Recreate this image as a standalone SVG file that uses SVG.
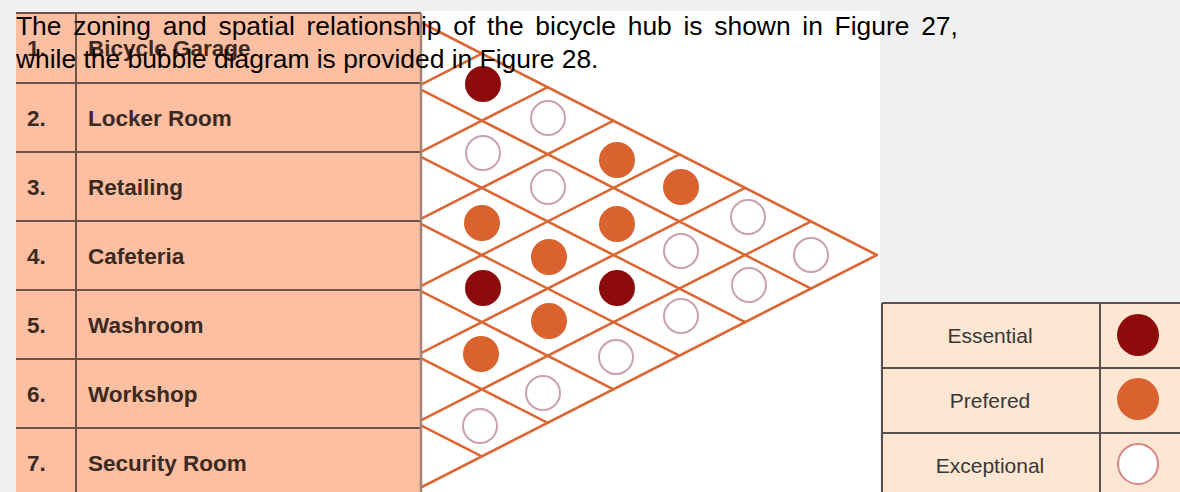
<svg xmlns="http://www.w3.org/2000/svg" width="1180" height="492" viewBox="0 0 1180 492">
<style>
.grid line{stroke:#DB6734;stroke-width:2.6;stroke-linecap:round}
.E{fill:#8E0B0B}
.P{fill:#D9622F}
.X{fill:#fff;stroke:#C9A2AC;stroke-width:2}
.row{fill:#FDBFA2}
.rl{stroke:#6E5246;stroke-width:2}
.num,.name{font-family:"Liberation Sans",Arial,sans-serif;font-weight:bold;font-size:22.5px;fill:#3A2A22}
.lg{fill:#FDE6D2}
.ll{stroke:#5A5050;stroke-width:2}
.lt{font-family:"Liberation Sans",Arial,sans-serif;font-size:21px;fill:#383838;text-anchor:middle}
.ov{font-family:"Liberation Sans",Arial,sans-serif;font-size:26.4px;fill:#000}
</style>
<rect x="0" y="0" width="1180" height="492" fill="#F0F0F0"/>
<rect x="421" y="11" width="459" height="481" fill="#FFFFFF"/>

<g id="connectors" class="grid">
<line x1="416" y1="20" x2="876.8" y2="255"/>
<line x1="416" y1="87.14" x2="811" y2="288.6"/>
<line x1="416" y1="154.29" x2="745.1" y2="322.1"/>
<line x1="416" y1="221.43" x2="679.3" y2="355.7"/>
<line x1="416" y1="288.57" x2="613.5" y2="389.3"/>
<line x1="416" y1="355.71" x2="547.7" y2="422.9"/>
<line x1="416" y1="422.86" x2="481.8" y2="456.4"/>
<line x1="416" y1="87.14" x2="481.8" y2="53.6"/>
<line x1="416" y1="154.29" x2="547.7" y2="87.1"/>
<line x1="416" y1="221.43" x2="613.5" y2="120.7"/>
<line x1="416" y1="288.57" x2="679.3" y2="154.3"/>
<line x1="416" y1="355.71" x2="745.1" y2="187.9"/>
<line x1="416" y1="422.86" x2="811" y2="221.4"/>
<line x1="416" y1="490" x2="876.8" y2="255"/>
</g>

<g id="matrix">
<circle class="E" cx="483" cy="84" r="18"/>
<circle class="X" cx="548" cy="118" r="17"/>
<circle class="X" cx="483" cy="153" r="17"/>
<circle class="P" cx="617" cy="160" r="18"/>
<circle class="P" cx="681" cy="187" r="18"/>
<circle class="X" cx="548" cy="187" r="17"/>
<circle class="P" cx="482" cy="223" r="18"/>
<circle class="P" cx="617" cy="224" r="18"/>
<circle class="X" cx="748" cy="217" r="17"/>
<circle class="X" cx="811" cy="255" r="17"/>
<circle class="P" cx="549" cy="257" r="18"/>
<circle class="X" cx="681" cy="251" r="17"/>
<circle class="E" cx="483" cy="288" r="18"/>
<circle class="E" cx="617" cy="288" r="18"/>
<circle class="X" cx="749" cy="285" r="17"/>
<circle class="P" cx="549" cy="321" r="18"/>
<circle class="X" cx="681" cy="316" r="17"/>
<circle class="P" cx="481" cy="354" r="18"/>
<circle class="X" cx="616" cy="357" r="17"/>
<circle class="X" cx="543" cy="393" r="17"/>
<circle class="X" cx="480" cy="426" r="17"/>
</g>

<g id="table">
<rect class="row" x="16" y="13" width="405" height="479"/>
<line class="rl" x1="16" y1="13" x2="421" y2="13" stroke-width="1.5"/>
<line class="rl" x1="16" y1="83" x2="421" y2="83"/>
<line class="rl" x1="16" y1="152" x2="421" y2="152"/>
<line class="rl" x1="16" y1="221" x2="421" y2="221"/>
<line class="rl" x1="16" y1="290" x2="421" y2="290"/>
<line class="rl" x1="16" y1="359" x2="421" y2="359"/>
<line class="rl" x1="16" y1="428" x2="421" y2="428"/>
<line class="rl" x1="76" y1="13" x2="76" y2="492"/>
<line x1="421" y1="13" x2="421" y2="492" stroke="#A08478" stroke-width="2.5"/>
</g>
<g id="item1"><text class="num" x="27" y="56">1.</text><text class="name" x="88" y="56">Bicycle Garage</text></g>
<g id="item2"><text class="num" x="27" y="126">2.</text><text class="name" x="88" y="126">Locker Room</text></g>
<g id="item3"><text class="num" x="27" y="195">3.</text><text class="name" x="88" y="195">Retailing</text></g>
<g id="item4"><text class="num" x="27" y="264">4.</text><text class="name" x="88" y="264">Cafeteria</text></g>
<g id="item5"><text class="num" x="27" y="333">5.</text><text class="name" x="88" y="333">Washroom</text></g>
<g id="item6"><text class="num" x="27" y="402">6.</text><text class="name" x="88" y="402">Workshop</text></g>
<g id="item7"><text class="num" x="27" y="471">7.</text><text class="name" x="88" y="471">Security Room</text></g>

<g id="legend">
<rect class="lg" x="882" y="303" width="298" height="189"/>
<line class="ll" x1="882" y1="303" x2="1180" y2="303"/>
<line class="ll" x1="882" y1="368" x2="1180" y2="368"/>
<line class="ll" x1="882" y1="433" x2="1180" y2="433"/>
<line class="ll" x1="882" y1="303" x2="882" y2="492"/>
<line class="ll" x1="1100" y1="303" x2="1100" y2="492"/>
</g>
<g id="legend-essential"><text class="lt" x="990" y="343">Essential</text><circle cx="1138" cy="335" r="21" fill="#8E0B0B"/></g>
<g id="legend-prefered"><text class="lt" x="990" y="408">Prefered</text><circle cx="1138" cy="399" r="21" fill="#D9622F"/></g>
<g id="legend-exceptional"><text class="lt" x="990" y="473">Exceptional</text><circle cx="1138" cy="464" r="20" fill="#fff" stroke="#D98585" stroke-width="2"/></g>

<g id="caption">
<text class="ov" x="16" y="35" word-spacing="4.4">The zoning and spatial relationship of the bicycle hub is shown in Figure 27,</text>
<text class="ov" x="16" y="68">while the bubble diagram is provided in Figure 28.</text>
</g>
</svg>
